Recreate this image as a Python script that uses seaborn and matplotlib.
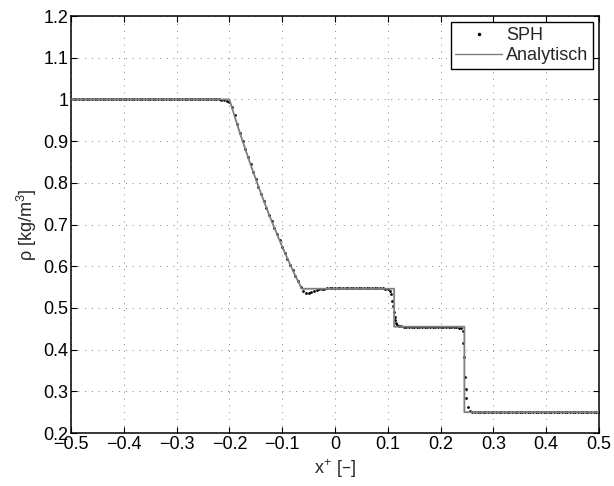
import matplotlib
matplotlib.use("Agg")
import matplotlib.pyplot as plt
from matplotlib.lines import Line2D
import seaborn as sns
import pandas as pd

# ---------------- data ----------------
# Analytical solution
ana_x = [-0.5, -0.2, -0.18, -0.16, -0.14, -0.12, -0.10, -0.08, -0.063,
         0.112, 0.112, 0.245, 0.245, 0.5]
ana_rho = [1.0, 1.0, 0.919, 0.844, 0.774, 0.708, 0.647, 0.590, 0.546,
           0.546, 0.455, 0.455, 0.25, 0.25]

# SPH particles
sph_x = [
    -0.500, -0.495, -0.490, -0.485, -0.480, -0.475, -0.470, -0.465, -0.460, -0.455,
    -0.450, -0.445, -0.440, -0.435, -0.430, -0.425, -0.420, -0.415, -0.410, -0.405,
    -0.400, -0.395, -0.390, -0.385, -0.380, -0.375, -0.370, -0.365, -0.360, -0.355,
    -0.350, -0.345, -0.340, -0.335, -0.330, -0.325, -0.320, -0.315, -0.310, -0.305,
    -0.300, -0.295, -0.290, -0.285, -0.280, -0.275, -0.270, -0.265, -0.260, -0.255,
    -0.250, -0.245, -0.240, -0.235, -0.230, -0.225, -0.220, -0.215, -0.210,
    -0.205, -0.200, -0.195, -0.190, -0.185, -0.180, -0.175, -0.170, -0.165, -0.160,
    -0.155, -0.150, -0.145, -0.140, -0.135, -0.130, -0.125, -0.120, -0.115, -0.110,
    -0.105, -0.100, -0.095, -0.090, -0.085, -0.080, -0.075, -0.070, -0.065, -0.060,
    -0.055, -0.050, -0.045, -0.040, -0.035, -0.030, -0.025, -0.020, -0.015, -0.010,
    -0.005, 0.000, 0.005, 0.010, 0.015, 0.020, 0.025, 0.030, 0.035, 0.040,
    0.045, 0.050, 0.055, 0.060, 0.065, 0.070, 0.075, 0.080, 0.085, 0.090,
    0.095, 0.100, 0.104, 0.107, 0.108, 0.110, 0.112, 0.113, 0.114, 0.116,
    0.118, 0.121, 0.125, 0.130, 0.135, 0.140, 0.145, 0.150, 0.155, 0.160,
    0.165, 0.170, 0.175, 0.180, 0.185, 0.190, 0.195, 0.200, 0.205, 0.210,
    0.215, 0.220, 0.225, 0.230, 0.235, 0.238, 0.242, 0.243, 0.244, 0.246,
    0.248, 0.249, 0.252, 0.255, 0.260, 0.265, 0.270, 0.275, 0.280, 0.285,
    0.290, 0.295, 0.300, 0.305, 0.310, 0.315, 0.320, 0.325, 0.330, 0.335,
    0.340, 0.345, 0.350, 0.355, 0.360, 0.365, 0.370, 0.375, 0.380, 0.385,
    0.390, 0.395, 0.400, 0.405, 0.410, 0.415, 0.420, 0.425, 0.430, 0.435,
    0.440, 0.445, 0.450, 0.455, 0.460, 0.465, 0.470, 0.475, 0.480, 0.485,
    0.490, 0.495, 0.500,
]
sph_rho = [
    1.000, 1.000, 1.000, 1.000, 1.000, 1.000, 1.000, 1.000, 1.000, 1.000,
    1.000, 1.000, 1.000, 1.000, 1.000, 1.000, 1.000, 1.000, 1.000, 1.000,
    1.000, 1.000, 1.000, 1.000, 1.000, 1.000, 1.000, 1.000, 1.000, 1.000,
    1.000, 1.000, 1.000, 1.000, 1.000, 1.000, 1.000, 1.000, 1.000, 1.000,
    1.000, 1.000, 1.000, 1.000, 1.000, 1.000, 1.000, 1.000, 1.000, 1.000,
    1.000, 1.000, 1.000, 1.000, 1.000, 1.000, 1.000, 0.999, 0.999,
    0.997, 0.993, 0.982, 0.963, 0.941, 0.919, 0.900, 0.881, 0.862, 0.844,
    0.826, 0.808, 0.791, 0.774, 0.757, 0.740, 0.724, 0.708, 0.692, 0.677,
    0.662, 0.647, 0.632, 0.618, 0.604, 0.590, 0.577, 0.564, 0.550, 0.540,
    0.535, 0.536, 0.539, 0.541, 0.543, 0.545, 0.546, 0.546, 0.547, 0.547,
    0.547, 0.547, 0.547, 0.547, 0.547, 0.547, 0.547, 0.547, 0.547, 0.547,
    0.547, 0.547, 0.547, 0.547, 0.547, 0.547, 0.547, 0.547, 0.547, 0.547,
    0.546, 0.545, 0.541, 0.533, 0.517, 0.505, 0.490, 0.479, 0.471, 0.464,
    0.460, 0.457, 0.456, 0.455, 0.455, 0.455, 0.455, 0.455, 0.455, 0.455,
    0.455, 0.455, 0.455, 0.455, 0.455, 0.455, 0.455, 0.455, 0.455, 0.455,
    0.455, 0.455, 0.454, 0.454, 0.453, 0.451, 0.445, 0.416, 0.382, 0.334,
    0.305, 0.284, 0.262, 0.253, 0.250, 0.250, 0.250, 0.250, 0.250, 0.250,
    0.250, 0.250, 0.250, 0.250, 0.250, 0.250, 0.250, 0.250, 0.250, 0.250,
    0.250, 0.250, 0.250, 0.250, 0.250, 0.250, 0.250, 0.250, 0.250, 0.250,
    0.250, 0.250, 0.250, 0.250, 0.250, 0.250, 0.250, 0.250, 0.250, 0.250,
    0.250, 0.250, 0.250, 0.250, 0.250, 0.250, 0.250, 0.250, 0.250, 0.250,
    0.250, 0.250, 0.250,
]

x_ticks = [-0.5, -0.4, -0.3, -0.2, -0.1, 0, 0.1, 0.2, 0.3, 0.4, 0.5]
x_ticklabels = ["\u22120.5", "\u22120.4", "\u22120.3", "\u22120.2", "\u22120.1",
                "0", "0.1", "0.2", "0.3", "0.4", "0.5"]
y_ticks = [0.2, 0.3, 0.4, 0.5, 0.6, 0.7, 0.8, 0.9, 1.0, 1.1, 1.2]
y_ticklabels = ["0.2", "0.3", "0.4", "0.5", "0.6", "0.7", "0.8", "0.9", "1", "1.1", "1.2"]

# ---------------- plot ----------------
sns.set_style("white")
plt.rcParams["font.family"] = ["Liberation Sans", "DejaVu Sans"]
plt.rcParams["mathtext.default"] = "regular"
plt.rcParams["font.size"] = 13

fig = plt.figure(figsize=(6.14, 4.86), dpi=100)
ax = fig.add_axes([0.1156, 0.109, 0.860, 0.858])

df_sph = pd.DataFrame({"x": sph_x, "rho": sph_rho})
df_ana = pd.DataFrame({"x": ana_x, "rho": ana_rho})

sns.scatterplot(data=df_sph, x="x", y="rho", ax=ax, color="black", s=4,
                marker="o", linewidth=0, zorder=3, legend=False)
sns.lineplot(data=df_ana, x="x", y="rho", ax=ax, color="#7f7f7f", lw=1.3,
             sort=False, estimator=None, zorder=4, legend=False)

ax.set_xlim(-0.5, 0.5)
ax.set_ylim(0.2, 1.2)
ax.set_xticks(x_ticks)
ax.set_xticklabels(x_ticklabels)
ax.set_yticks(y_ticks)
ax.set_yticklabels(y_ticklabels)
ax.grid(True, linestyle=(0, (1, 6)), color="#808080", lw=0.7)
ax.tick_params(direction="in", length=4, width=0.8, colors="black",
               labelsize=13, top=True, right=True, bottom=True, left=True)
ax.tick_params(axis="x", pad=2)
ax.tick_params(axis="y", pad=2)
for sp in ax.spines.values():
    sp.set_visible(True)
    sp.set_color("black")
    sp.set_linewidth(1.1)

ax.set_xlabel("x$^{+}$ [\u2013]", fontsize=13, labelpad=3)
ax.set_ylabel("\u03c1 [kg/m$^{3}$]", fontsize=13, labelpad=3)

h_sph = Line2D([], [], color="black", marker=".", markersize=3, linestyle="none")
h_ana = Line2D([], [], color="#7f7f7f", lw=1.0)
leg = ax.legend([h_sph, h_ana], ["SPH", "Analytisch"], loc="upper right",
                fancybox=False, framealpha=1, edgecolor="black",
                borderaxespad=0.35, handlelength=2.6, handletextpad=0.2,
                borderpad=0.25, labelspacing=0.2, fontsize=13)
leg.get_frame().set_linewidth(1.0)

fig.savefig("out.png", dpi=100)
